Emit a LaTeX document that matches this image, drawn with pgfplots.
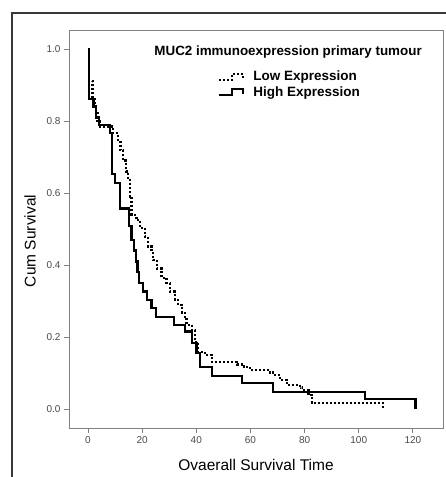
\documentclass[border=0pt]{standalone}
\usepackage{pgfplots}
\pgfplotsset{compat=1.18}
\usepackage{fontspec}
\setmainfont{Liberation Sans}
\definecolor{axgray}{HTML}{808080}
\definecolor{ticktext}{HTML}{4A4A4A}
\definecolor{framegray}{HTML}{383838}

\pgfplotstableread{
t S
0 1.000
0.5 0.861
2.0 0.840
3.0 0.810
4.2 0.789
8.2 0.766
9.0 0.653
10.0 0.627
11.8 0.557
15.1 0.508
16.1 0.469
17.0 0.440
17.8 0.410
18.3 0.380
18.8 0.350
20.4 0.326
21.9 0.303
23.5 0.280
25.0 0.256
31.9 0.233
35.8 0.215
38.3 0.183
40.1 0.155
41.4 0.117
45.7 0.092
56.8 0.072
68.4 0.047
102.3 0.027
121.0 0.000
}\highexpr

\pgfplotstableread{
t S
0 1.000
0.5 0.910
1.7 0.860
2.5 0.830
3.5 0.800
4.5 0.785
9.3 0.766
11.0 0.742
12.0 0.720
13.0 0.690
14.0 0.660
14.9 0.636
15.5 0.590
16.1 0.539
17.9 0.525
19.2 0.503
21.0 0.479
22.2 0.451
23.5 0.437
24.1 0.414
25.4 0.390
27.2 0.364
29.0 0.350
30.3 0.326
32.1 0.303
33.3 0.289
34.6 0.266
35.8 0.252
36.4 0.233
38.3 0.219
39.5 0.187
40.7 0.159
43.2 0.150
45.7 0.131
55.0 0.124
57.5 0.117
59.8 0.108
67.2 0.101
69.1 0.094
70.9 0.081
73.4 0.067
78.3 0.060
78.9 0.053
81.4 0.039
82.6 0.016
109.0 0.004
}\lowexpr

\begin{document}
\begin{tikzpicture}[x=1pt,y=1pt]
\useasboundingbox (0,0) rectangle (445,477);
\fill[white] (0,0) rectangle (445,477);
% outer chart frame, runs off the right and bottom edges
\draw[framegray, line width=1.2pt] (12,-10) -- (12,464) -- (460,464);
\begin{axis}[
  at={(69pt,49pt)}, anchor=south west,
  width=374pt, height=398pt, scale only axis,
  xmin=-7, xmax=131.1, ymin=-0.0528, ymax=1.0528,
  xtick={0,20,40,60,80,100,120},
  ytick={0,0.2,0.4,0.6,0.8,1.0},
  yticklabel style={/pgf/number format/.cd, fixed, fixed zerofill, precision=1},
  /pgf/number format/assume math mode=true,
  xtick pos=bottom, ytick pos=left,
  tick align=outside, major tick length=5pt,
  axis line style={axgray, line width=0.9pt},
  tick style={axgray, line width=0.9pt},
  ticklabel style={font=\fontsize{10}{11}\selectfont, text=ticktext},
  xlabel={Ovaerall Survival Time}, ylabel={Cum Survival},
  label style={font=\fontsize{15.5}{18}\selectfont},
  xlabel style={at={(axis description cs:0.5,-0.093)}, anchor=center},
  ylabel style={at={(axis description cs:-0.104,0.47)}, anchor=center},
  legend style={at={(axis description cs:0.398,0.902)}, anchor=north west,
    draw=none, fill=none, font=\bfseries\fontsize{13.5}{15}\selectfont,
    row sep=0pt, column sep=7pt, inner sep=0pt},
  legend cell align=left,
]
\addplot[const plot, black, line width=2.3pt, dash pattern=on 2pt off 2pt,
  legend image code/.code={
    \draw[line width=2.3pt, dash pattern=on 2pt off 2pt]
      (0pt,-3pt) -- (13pt,-3pt) -- (13pt,3pt) -- (24pt,3pt) -- (24pt,-2pt);}]
  table[x=t, y=S] {\lowexpr};
\addlegendentry{Low Expression}
\addplot[const plot, black, line width=2.3pt,
  legend image code/.code={
    \draw[line width=2.3pt]
      (0pt,-3pt) -- (13pt,-3pt) -- (13pt,3pt) -- (24pt,3pt) -- (24pt,-2pt);}]
  table[x=t, y=S] {\highexpr};
\addlegendentry{High Expression}
\node[anchor=west, font=\bfseries\fontsize{13.4}{15}\selectfont]
  at (axis description cs:0.219,0.945) {MUC2 immunoexpression primary tumour};
\end{axis}
\end{tikzpicture}
\end{document}
